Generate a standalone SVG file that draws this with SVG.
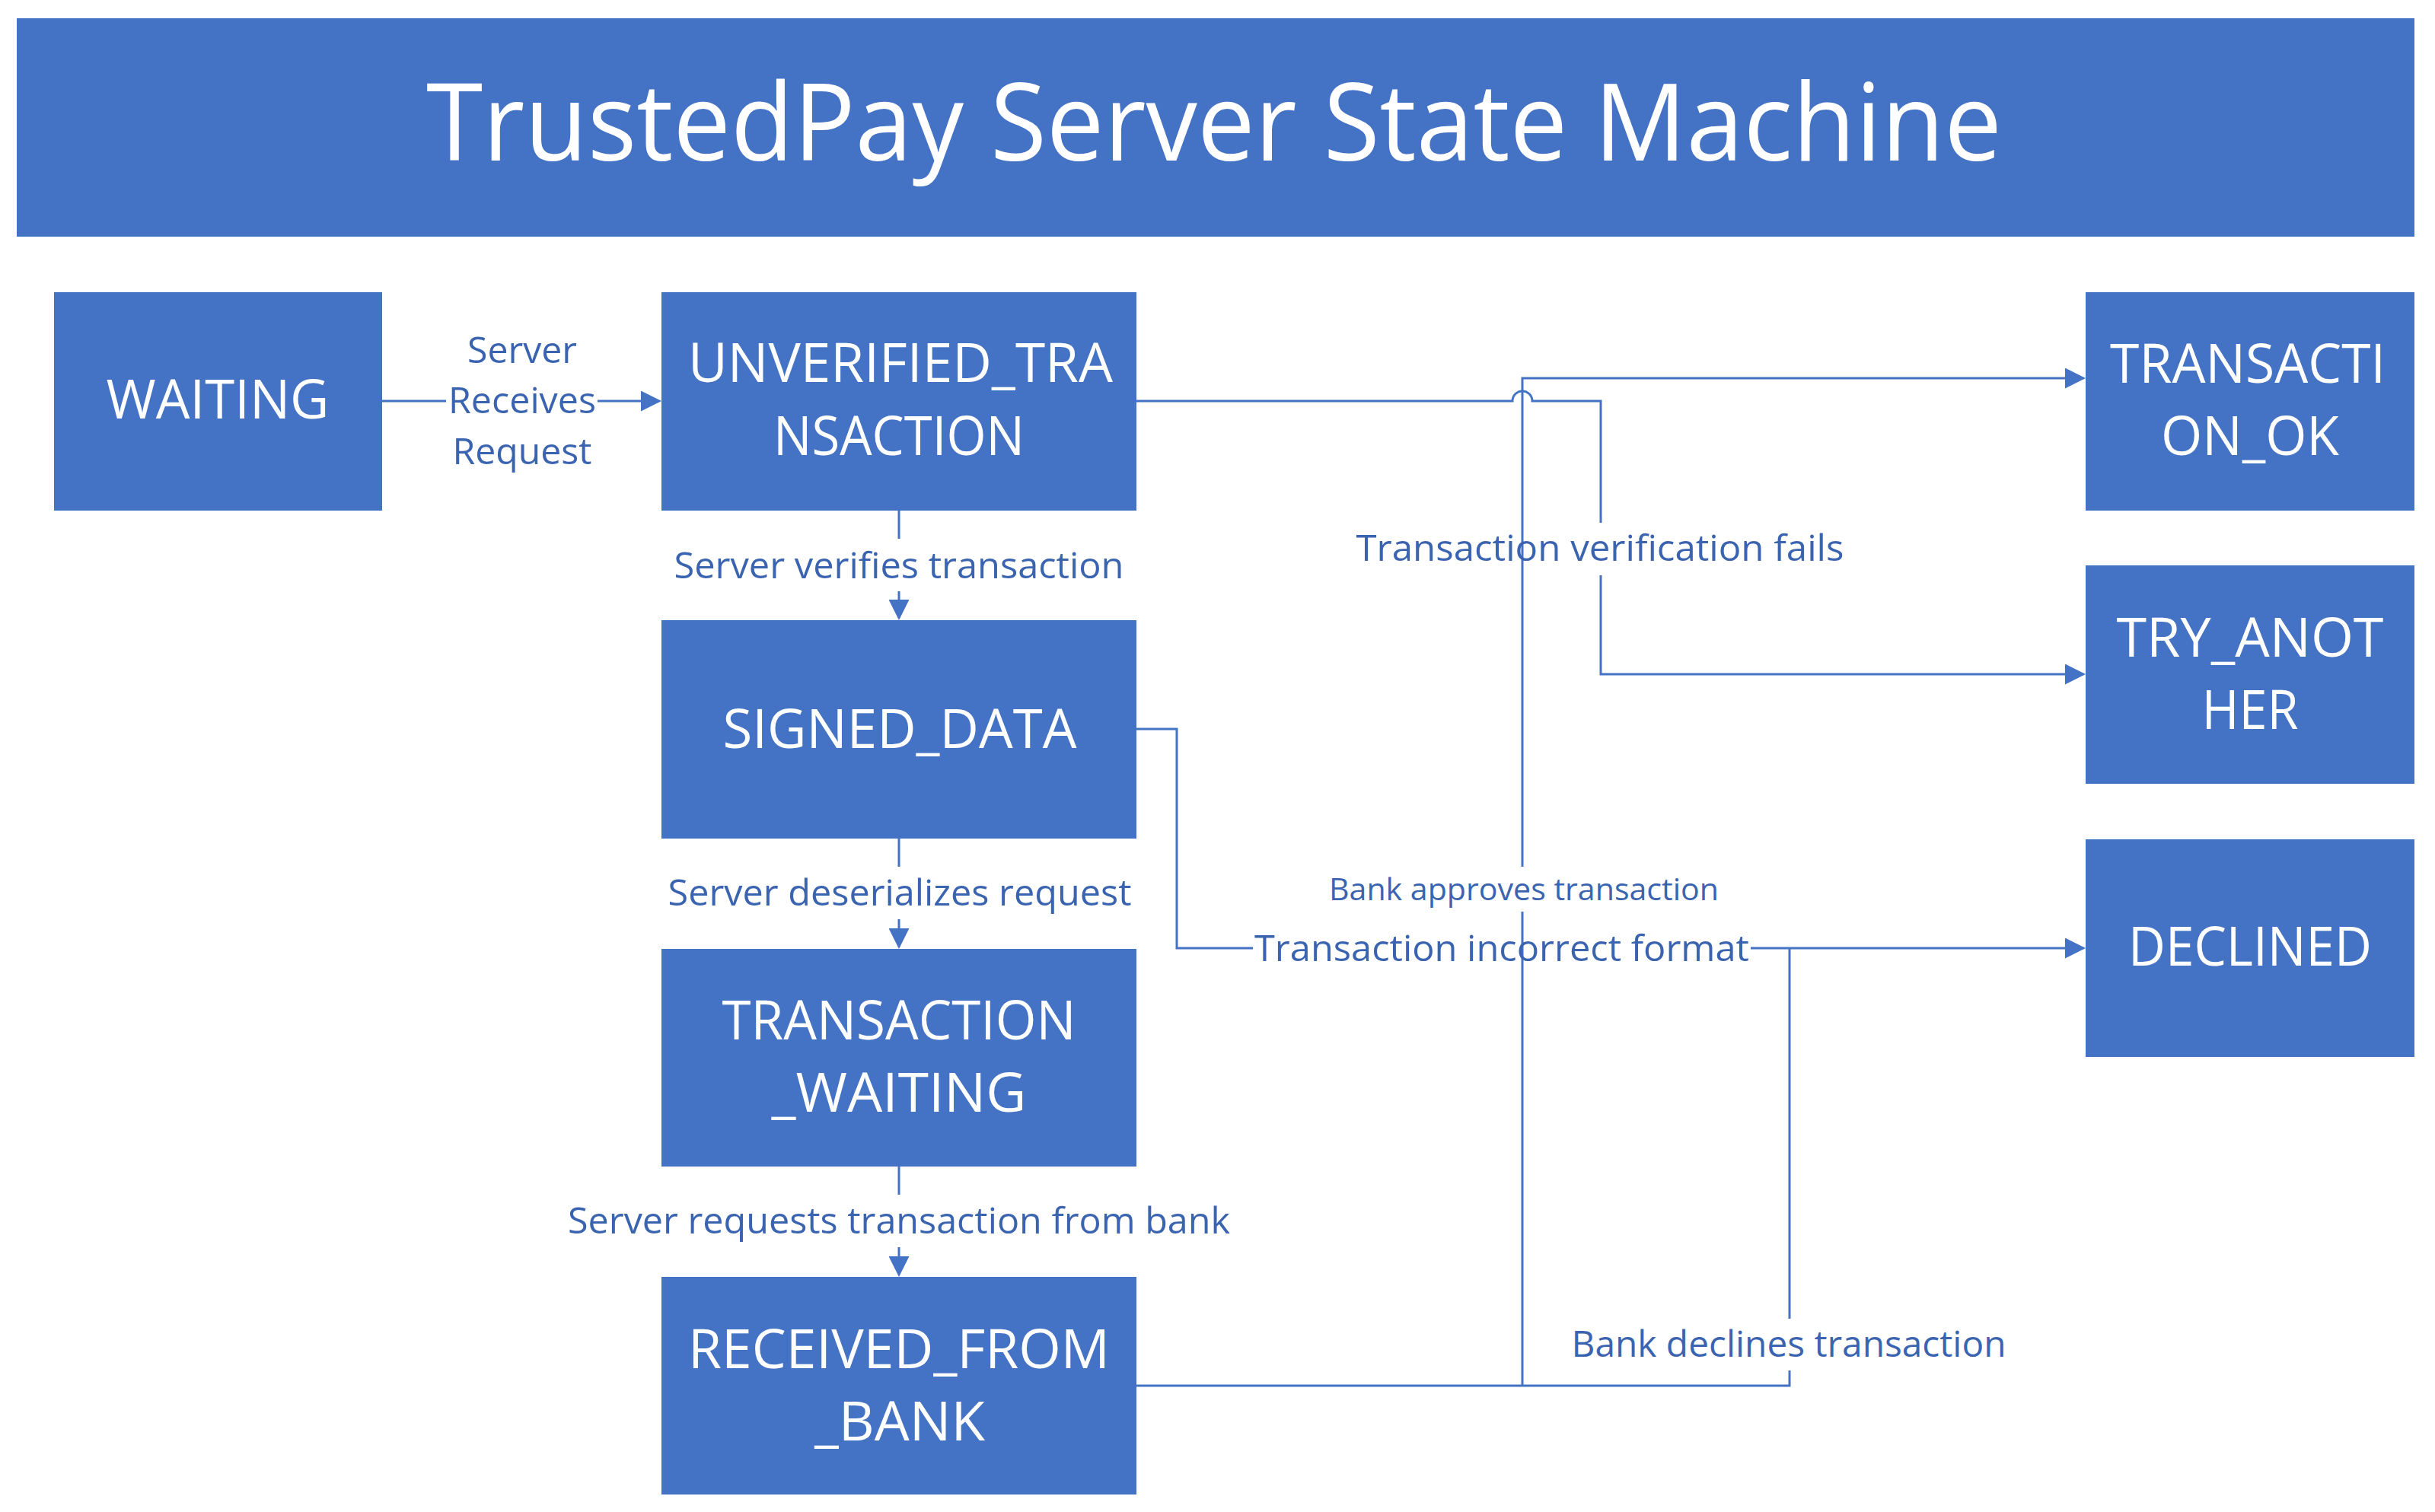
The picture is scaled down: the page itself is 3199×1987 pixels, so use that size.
<svg xmlns="http://www.w3.org/2000/svg" width="3199" height="1987" viewBox="0 0 3199 1987">
<style>
.box{fill:#4472C4;}
.nt{fill:#FFFFFF;font-family:"Open Sans","Noto Sans",sans-serif;font-size:71px;text-anchor:middle;}
.title{fill:#FFFFFF;font-family:"Open Sans","Noto Sans",sans-serif;font-size:141px;text-anchor:middle;}
.el{fill:#3B64B0;font-family:"Open Sans","Noto Sans",sans-serif;font-size:48px;text-anchor:middle;}
.sm{font-size:40px;}
.cn{fill:none;stroke:#4472C4;stroke-width:3;stroke-linejoin:miter;}
</style>
<defs>
<marker id="arr" markerUnits="userSpaceOnUse" markerWidth="27" markerHeight="27" viewBox="0 0 27 27" refX="24" refY="13.5" orient="auto">
<path d="M0,0 L27,13.5 L0,27 Z" fill="#4472C4"/>
</marker>
</defs>
<rect width="3199" height="1987" fill="#FFFFFF"/>
<g id="title">
<rect class="box" x="22" y="24" width="3150" height="287"/>
<text class="title" x="1595" y="211" textLength="2070" lengthAdjust="spacingAndGlyphs">TrustedPay Server State Machine</text>
</g>
<g id="connectors">
<path class="cn" d="M502,527 H586"/>
<path class="cn" d="M785,527 H866" marker-end="url(#arr)"/>
<path class="cn" d="M1181,671 V708"/>
<path class="cn" d="M1181,777 V812" marker-end="url(#arr)"/>
<path class="cn" d="M1181,1102 V1139"/>
<path class="cn" d="M1181,1208 V1244" marker-end="url(#arr)"/>
<path class="cn" d="M1181,1533 V1570"/>
<path class="cn" d="M1181,1639 V1675" marker-end="url(#arr)"/>
<path class="cn" d="M1493,527 H1987 A13,13 0 0 1 2013,527 H2103 V687"/>
<path class="cn" d="M2103,756 V886 H2737" marker-end="url(#arr)"/>
<path class="cn" d="M1493,1821 H2351 V1801"/>
<path class="cn" d="M2000,1821 V1198"/>
<path class="cn" d="M2000,1139 V497 H2737" marker-end="url(#arr)"/>
<path class="cn" d="M2351,1733 V1246"/>
<path class="cn" d="M1493,958 H1546 V1246 H1646"/>
<path class="cn" d="M2300,1246 H2737" marker-end="url(#arr)"/>
<text class="el" x="686" y="477" textLength="144" lengthAdjust="spacingAndGlyphs">Server</text>
<text class="el" x="686" y="543" textLength="194" lengthAdjust="spacingAndGlyphs">Receives</text>
<text class="el" x="686" y="610" textLength="183" lengthAdjust="spacingAndGlyphs">Request</text>
<text class="el" x="1181" y="760" textLength="591" lengthAdjust="spacingAndGlyphs">Server verifies transaction</text>
<text class="el" x="1182" y="1190" textLength="609" lengthAdjust="spacingAndGlyphs">Server deserializes request</text>
<text class="el" x="1181" y="1621" textLength="870" lengthAdjust="spacingAndGlyphs">Server requests transaction from bank</text>
<text class="el" x="2102" y="737" textLength="641" lengthAdjust="spacingAndGlyphs">Transaction verification fails</text>
<text class="el sm" x="2002" y="1183" textLength="512" lengthAdjust="spacingAndGlyphs">Bank approves transaction</text>
<text class="el" x="1973" y="1263" textLength="650" lengthAdjust="spacingAndGlyphs">Transaction incorrect format</text>
<text class="el" x="2350" y="1783" textLength="571" lengthAdjust="spacingAndGlyphs">Bank declines transaction</text>
</g>
<g id="waiting">
<rect class="box" x="71" y="384" width="431" height="287"/>
<text class="nt" x="286" y="550" textLength="293" lengthAdjust="spacingAndGlyphs">WAITING</text>
</g>
<g id="unverified_transaction">
<rect class="box" x="869" y="384" width="624" height="287"/>
<text class="nt" x="1183" y="502" textLength="558" lengthAdjust="spacingAndGlyphs">UNVERIFIED_TRA</text>
<text class="nt" x="1181" y="598" textLength="330" lengthAdjust="spacingAndGlyphs">NSACTION</text>
</g>
<g id="signed_data">
<rect class="box" x="869" y="815" width="624" height="287"/>
<text class="nt" x="1182" y="983" textLength="465" lengthAdjust="spacingAndGlyphs">SIGNED_DATA</text>
</g>
<g id="transaction_waiting">
<rect class="box" x="869" y="1247" width="624" height="286"/>
<text class="nt" x="1181" y="1366" textLength="465" lengthAdjust="spacingAndGlyphs">TRANSACTION</text>
<text class="nt" x="1181" y="1461" textLength="335" lengthAdjust="spacingAndGlyphs">_WAITING</text>
</g>
<g id="received_from_bank">
<rect class="box" x="869" y="1678" width="624" height="286"/>
<text class="nt" x="1181" y="1798" textLength="554" lengthAdjust="spacingAndGlyphs">RECEIVED_FROM</text>
<text class="nt" x="1182" y="1893" textLength="224" lengthAdjust="spacingAndGlyphs">_BANK</text>
</g>
<g id="transaction_ok">
<rect class="box" x="2740" y="384" width="432" height="287"/>
<text class="nt" x="2953" y="503" textLength="362" lengthAdjust="spacingAndGlyphs">TRANSACTI</text>
<text class="nt" x="2956" y="598" textLength="234" lengthAdjust="spacingAndGlyphs">ON_OK</text>
</g>
<g id="try_another">
<rect class="box" x="2740" y="743" width="432" height="287"/>
<text class="nt" x="2956" y="863" textLength="351" lengthAdjust="spacingAndGlyphs">TRY_ANOT</text>
<text class="nt" x="2956" y="958" textLength="127" lengthAdjust="spacingAndGlyphs">HER</text>
</g>
<g id="declined">
<rect class="box" x="2740" y="1103" width="432" height="286"/>
<text class="nt" x="2956" y="1269" textLength="320" lengthAdjust="spacingAndGlyphs">DECLINED</text>
</g>
</svg>
